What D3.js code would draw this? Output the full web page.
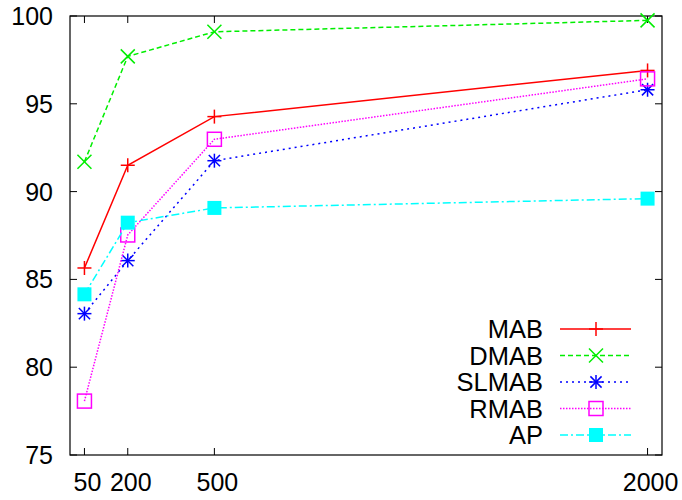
<!DOCTYPE html>
<html>
<head>
<meta charset="utf-8">
<script src="https://cdn.jsdelivr.net/npm/d3@7"></script>
<style>
  html, body { margin: 0; padding: 0; background: #fff; }
  svg { display: block; }
  text { font-family: "Liberation Sans", Arial, Helvetica, sans-serif; fill: #000; }
</style>
</head>
<body>
<svg id="chart" width="682" height="500"></svg>
<script>
// Sample sizes on the x axis
const sizes = [50, 200, 500, 2000];
const xTicks = [50, 200, 500, 2000];
const yTicks = [75, 80, 85, 90, 95, 100];

// Accuracy of each method at every sample size
const seriesNames = ["MAB", "DMAB", "SLMAB", "RMAB", "AP"];
const mab   = [85.65, 91.5, 94.27, 96.9];
const dmab  = [91.7, 97.7, 99.1, 99.75];
const slmab = [83.05, 86.07, 91.76, 95.8];
const rmab  = [78.07, 87.53, 92.98, 96.42];
const ap    = [84.15, 88.23, 89.07, 89.6];

const seriesValues = [mab, dmab, slmab, rmab, ap];
const colors = ["#ff0000", "#00ee00", "#0000ff", "#ff00ff", "#00ffff"];
const dashes = [null, "5,3", "2,4", "1.5,1.5", "8,3,2,3"];
const markers = ["plus", "cross", "star", "square", "filled"];

const svg = d3.select("#chart");
const plotL = 70, plotR = 662, plotT = 16, plotB = 455;

const x = d3.scaleLinear().domain([0, 2050]).range([plotL, plotR]);
const y = d3.scaleLinear().domain([75, 100]).range([plotB, plotT]);

// Frame
svg.append("rect")
  .attr("x", plotL).attr("y", plotT)
  .attr("width", plotR - plotL).attr("height", plotB - plotT)
  .attr("fill", "none").attr("stroke", "#000").attr("stroke-width", 1.2);

const tickLen = 7;
const tickG = svg.append("g").attr("stroke", "#000").attr("stroke-width", 1);

// x ticks, bottom and mirrored on top
xTicks.forEach(t => {
  const px = x(t);
  tickG.append("line").attr("x1", px).attr("x2", px).attr("y1", plotB).attr("y2", plotB - tickLen);
  tickG.append("line").attr("x1", px).attr("x2", px).attr("y1", plotT).attr("y2", plotT + tickLen);
});
// y ticks, left and mirrored on right
yTicks.forEach(t => {
  const py = y(t);
  tickG.append("line").attr("x1", plotL).attr("x2", plotL + tickLen).attr("y1", py).attr("y2", py);
  tickG.append("line").attr("x1", plotR).attr("x2", plotR - tickLen).attr("y1", py).attr("y2", py);
});

// tick labels
svg.append("g").selectAll("text").data(xTicks).join("text")
  .attr("x", d => x(d) + 3)
  .attr("y", 491)
  .attr("text-anchor", "middle")
  .attr("font-size", 25)
  .text(d => d);

svg.append("g").selectAll("text").data(yTicks).join("text")
  .attr("x", 53)
  .attr("y", d => y(d))
  .attr("dy", "0.36em")
  .attr("text-anchor", "end")
  .attr("font-size", 25)
  .text(d => d);

// marker drawing
function drawMarker(g, type, cx, cy, color) {
  const r = 7;
  if (type === "plus" || type === "star") {
    g.append("line").attr("x1", cx - r).attr("x2", cx + r).attr("y1", cy).attr("y2", cy)
      .attr("stroke", color).attr("stroke-width", 1.5);
    g.append("line").attr("x1", cx).attr("x2", cx).attr("y1", cy - r).attr("y2", cy + r)
      .attr("stroke", color).attr("stroke-width", 1.5);
  }
  if (type === "cross" || type === "star") {
    const s = type === "star" ? r * 0.8 : r;
    g.append("line").attr("x1", cx - s).attr("x2", cx + s).attr("y1", cy - s).attr("y2", cy + s)
      .attr("stroke", color).attr("stroke-width", 1.5);
    g.append("line").attr("x1", cx - s).attr("x2", cx + s).attr("y1", cy + s).attr("y2", cy - s)
      .attr("stroke", color).attr("stroke-width", 1.5);
  }
  if (type === "square") {
    g.append("rect").attr("x", cx - r).attr("y", cy - r).attr("width", 2 * r).attr("height", 2 * r)
      .attr("fill", "none").attr("stroke", color).attr("stroke-width", 1.5);
  }
  if (type === "filled") {
    g.append("rect").attr("x", cx - r).attr("y", cy - r).attr("width", 2 * r).attr("height", 2 * r)
      .attr("fill", color);
  }
}

const line = d3.line().x(d => x(d[0])).y(d => y(d[1]));

seriesValues.forEach((vals, i) => {
  const g = svg.append("g");
  const pts = sizes.map((s, j) => [s, vals[j]]);
  g.append("path")
    .attr("d", line(pts))
    .attr("fill", "none")
    .attr("stroke", colors[i])
    .attr("stroke-width", 1.5)
    .attr("stroke-dasharray", dashes[i]);
  pts.forEach(p => drawMarker(g, markers[i], x(p[0]), y(p[1]), colors[i]));
});

// legend
const legTop = 329, legStep = 26.5;
seriesNames.forEach((name, i) => {
  const ly = legTop + i * legStep;
  const g = svg.append("g");
  g.append("text")
    .attr("x", 543).attr("y", ly).attr("dy", "0.36em")
    .attr("text-anchor", "end")
    .attr("font-size", 25.5)
    .text(name);
  g.append("line")
    .attr("x1", 560).attr("x2", 631).attr("y1", ly).attr("y2", ly)
    .attr("stroke", colors[i]).attr("stroke-width", 1.5)
    .attr("stroke-dasharray", dashes[i]);
  drawMarker(g, markers[i], 596, ly, colors[i]);
});
</script>
</body>
</html>
